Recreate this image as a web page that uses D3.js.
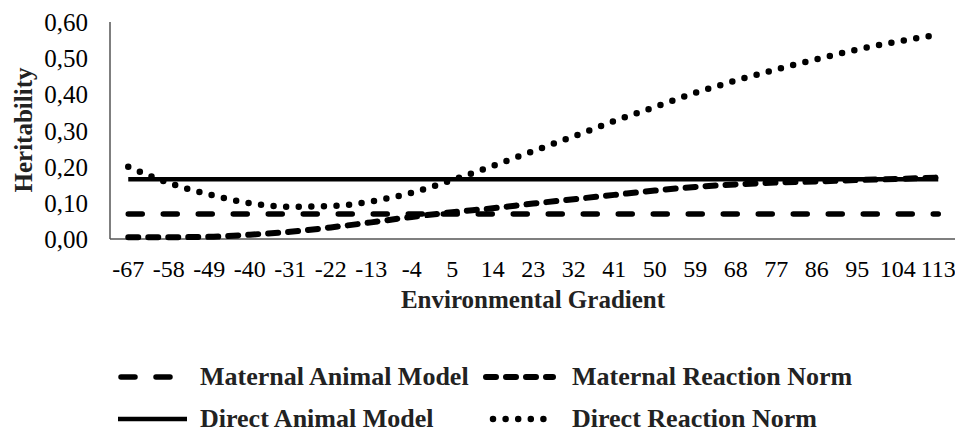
<!DOCTYPE html>
<html><head><meta charset="utf-8">
<script src="https://cdn.jsdelivr.net/npm/d3@7"></script>
<style>
html,body{margin:0;padding:0;background:#fff;}
svg{display:block;}
</style></head>
<body><svg id="chart" width="955" height="432"></svg>
<script>
const categories = [-67,-58,-49,-40,-31,-22,-13,-4,5,14,23,32,41,50,59,68,77,86,95,104,113];
const maternalAnimalModel = [0.069,0.069,0.069,0.069,0.069,0.069,0.069,0.069,0.069,0.069,0.069,0.069,0.069,0.069,0.069,0.069,0.069,0.069,0.069,0.069,0.069];
const directAnimalModel = [0.165,0.165,0.165,0.165,0.165,0.165,0.165,0.165,0.165,0.165,0.165,0.165,0.165,0.165,0.165,0.165,0.165,0.165,0.165,0.165,0.165];
const maternalReactionNorm = [0.005,0.005,0.006,0.012,0.020,0.032,0.046,0.061,0.074,0.085,0.098,0.110,0.122,0.134,0.144,0.151,0.156,0.159,0.163,0.166,0.170];
const directReactionNorm = [0.200,0.155,0.123,0.099,0.089,0.091,0.104,0.128,0.163,0.202,0.243,0.284,0.326,0.365,0.404,0.438,0.469,0.497,0.524,0.546,0.565];
const yTicks = [0,0.1,0.2,0.3,0.4,0.5,0.6];
const seriesNames = ["Maternal Animal Model","Maternal Reaction Norm","Direct Animal Model","Direct Reaction Norm"];

const FONT = "'Liberation Serif','Times New Roman','DejaVu Serif',serif";
const svg = d3.select("#chart").attr("font-family", FONT);
const x = d3.scaleBand().domain(categories).range([108, 958.5]).padding(0);
const y = d3.scaleLinear().domain([0, 0.6]).range([239, 22]);
const cx = d => x(d) + x.bandwidth()/2;

// axes
svg.append("line").attr("x1",110).attr("x2",110).attr("y1",y(0.6)).attr("y2",y(0)).attr("stroke","#555").attr("stroke-width",1.5);
svg.append("line").attr("x1",110).attr("x2",955).attr("y1",y(0)).attr("y2",y(0)).attr("stroke","#555").attr("stroke-width",1.5);

// y tick labels
const fmt = v => d3.format(".2f")(v).replace(".", ",");
svg.append("g").selectAll("text").data(yTicks).join("text")
  .attr("font-family", FONT)
  .attr("x", 88).attr("y", d => y(d) + 9)
  .attr("text-anchor","end").attr("font-size",25).attr("fill","#000").text(fmt);

// x tick labels
svg.append("g").selectAll("text").data(categories).join("text")
  .attr("font-family", FONT)
  .attr("x", d => cx(d)).attr("y", 277)
  .attr("text-anchor","middle").attr("font-size",24).attr("fill","#000").text(d => d);

// axis titles
svg.append("text").attr("font-family", FONT).attr("x",533).attr("y",308).attr("text-anchor","middle")
  .attr("font-size",25).attr("font-weight","bold").attr("fill","#222").text("Environmental Gradient");
svg.append("text").attr("font-family", FONT).attr("transform","translate(32,130) rotate(-90)").attr("text-anchor","middle")
  .attr("font-size",25).attr("font-weight","bold").attr("fill","#222").text("Heritability");

const styles = [
  {data: maternalAnimalModel, dash:"14 21", cap:"round", w:5.5},
  {data: maternalReactionNorm, dash:"10 10", cap:"round", w:6},
  {data: directAnimalModel, dash:null, cap:"butt", w:4.5},
  {data: directReactionNorm, dash:"0 12.6", cap:"round", w:6.5}
];
const line = d3.line().x((d,i) => cx(categories[i])).y(d => y(d)).curve(d3.curveMonotoneX);
styles.forEach(s => {
  svg.append("path").datum(s.data).attr("d", line).attr("fill","none")
    .attr("stroke","#000").attr("stroke-width", s.w)
    .attr("stroke-linecap", s.cap)
    .attr("stroke-dasharray", s.dash);
});

// legend
const legendPos = [
  {x1:121, x2:176, tx:200, y:377},
  {x1:486, x2:553, tx:572, y:377},
  {x1:118, x2:187, tx:200, y:419},
  {x1:493, x2:556, tx:572, y:419}
];
legendPos.forEach((p,i) => {
  const s = styles[i];
  svg.append("line").attr("x1",p.x1).attr("x2",p.x2).attr("y1",p.y).attr("y2",p.y)
    .attr("stroke","#000").attr("stroke-width",s.w).attr("stroke-linecap",s.cap)
    .attr("stroke-dasharray",s.dash);
  svg.append("text").attr("font-family", FONT).attr("x",p.tx).attr("y",p.y+8).attr("font-size",26)
    .attr("font-weight","bold").attr("fill","#222").text(seriesNames[i]);
});
</script></body></html>
